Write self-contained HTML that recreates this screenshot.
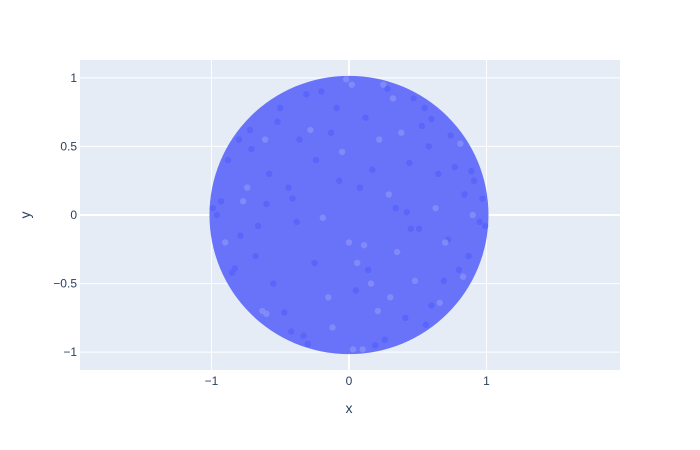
<!DOCTYPE html>
<html><head><meta charset="utf-8"><style>
body{margin:0;background:#fff}
svg{display:block;font-family:"Liberation Sans",sans-serif}
</style></head><body>
<svg id="chart" width="700" height="450">
<rect x="80" y="60" width="540" height="310" fill="#e5ecf6"/>
<g id="grid"></g><g id="marks"></g><g id="axes"></g>
<text x="349" y="413" font-size="14" fill="#2a3f5f" text-anchor="middle">x</text>
<text x="30" y="215" font-size="14" fill="#2a3f5f" text-anchor="middle" transform="rotate(-90 30 215)">y</text>
</svg>
<script>
const xTicks=[-1,0,1];
const xTickLabels=["−1","0","1"];
const yTicks=[-1,-0.5,0,0.5,1];
const yTickLabels=["−1","−0.5","0","0.5","1"];
const diskRadius=[1];
const px=[0.02,-0.31,0.55,0.81,-0.72,0.12,-0.05,0.44,-0.58,0.29,-0.88,0.91,0.63,-0.41,0.17,-0.19,0.72,-0.66,0.35,-0.25,0.05,0.48,-0.83,0.87,-0.12,0.26,-0.47,0.66,-0.93,0.95,0.38,-0.36,0.08,-0.74,0.58,-0.55,0.21,-0.09,0.77,-0.61,0.14,0.51,-0.28,0.84,-0.79,0.32,-0.44,0.69,-0.15,0.42,-0.68,0.03,0.6,-0.5,0.22,-0.85,0.89,-0.02,0.47,-0.33,0.11,0.74,-0.71,0.3,-0.2,0.56,-0.9,0.97,-0.38,0.16,0.65,-0.6,0.25,-0.07,0.8,-0.77,0.41,-0.52,0.06,0.53,-0.24,0.9,-0.96,0.34,-0.63,0.19,-0.42,0.7,-0.13,0.45,0.0,-0.99,0.99,0.1,-0.3,0.6,-0.6,0.28,-0.8,0.83];
const py=[0.95,0.88,0.78,0.52,0.62,0.71,0.46,0.38,0.3,0.15,0.4,0.25,0.05,0.12,0.33,-0.02,-0.18,-0.08,-0.27,-0.35,-0.55,-0.48,-0.39,-0.3,-0.82,-0.91,-0.71,-0.64,0.1,-0.05,0.6,0.55,0.2,0.2,0.5,-0.5,-0.7,0.78,0.35,0.55,-0.4,-0.1,0.62,0.15,-0.15,0.85,0.2,-0.48,-0.6,0.02,-0.3,-0.98,-0.66,0.78,0.55,-0.42,0.32,0.99,0.85,-0.88,-0.22,0.58,0.48,-0.6,0.9,-0.8,-0.2,0.12,-0.05,-0.5,0.3,0.08,0.95,0.25,-0.4,0.1,-0.75,0.68,-0.35,0.65,0.4,0.0,0.0,0.05,-0.7,-0.95,-0.85,-0.2,0.6,-0.1,-0.2,0.05,-0.08,-0.98,-0.94,0.7,-0.72,0.92,0.55,-0.45];
const X0=80,X1=620,Y0=60,Y1=370;
const xMin=-1.956,xMax=1.971,yMin=-1.13,yMax=1.13;
const sx=v=>X0+(v-xMin)/(xMax-xMin)*(X1-X0);
const sy=v=>Y1-(v-yMin)/(yMax-yMin)*(Y1-Y0);
const NS="http://www.w3.org/2000/svg";
const mk=(t,a,p)=>{const e=document.createElementNS(NS,t);for(const k in a)e.setAttribute(k,a[k]);p.appendChild(e);return e;};
const grid=document.getElementById('grid'),marks=document.getElementById('marks'),axes=document.getElementById('axes');
xTicks.forEach((v,i)=>{
 const l=mk('line',{x1:sx(v),x2:sx(v),y1:Y0,y2:Y1,stroke:'#fff','stroke-width':v===0?2:1},grid);
 
 
 const t=mk('text',{x:sx(v),y:Y1+15,'font-size':12,fill:'#2a3f5f','text-anchor':'middle'},axes);
 t.textContent=xTickLabels[i];
 
 
});
yTicks.forEach((v,i)=>{
 const l=mk('line',{x1:X0,x2:X1,y1:sy(v),y2:sy(v),stroke:'#fff','stroke-width':v===0?2:1},grid);
 
 
 const t=mk('text',{x:X0-3,y:sy(v)+4,'font-size':12,fill:'#2a3f5f','text-anchor':'end'},axes);
 t.textContent=yTickLabels[i];
 
 
});
const r=diskRadius[0];
const d=mk('ellipse',{cx:sx(0),cy:sy(0),rx:sx(r)-sx(0)+2,ry:sy(0)-sy(r)+2,fill:'#636efa','fill-opacity':0.97},marks);


px.forEach((v,i)=>{
 const c=mk('circle',{cx:sx(v),cy:sy(py[i]),r:3.2,fill:i%3===0?'#8a92f7':'#5560f8','fill-opacity':0.75},marks);
 
 
});
</script>
</body></html>
